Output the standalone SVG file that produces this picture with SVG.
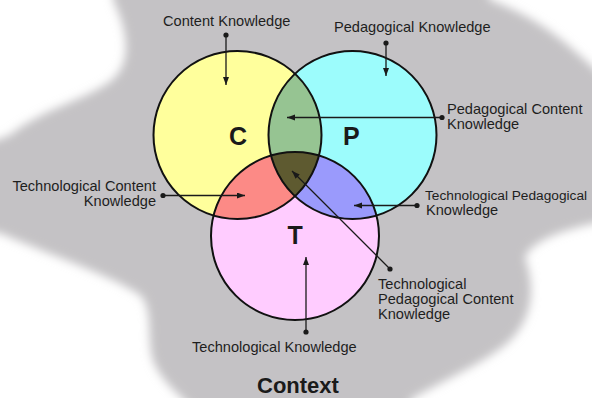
<svg xmlns="http://www.w3.org/2000/svg" width="592" height="398" viewBox="0 0 592 398">
<defs>
<filter id="blur" x="-20%" y="-20%" width="140%" height="140%"><feGaussianBlur stdDeviation="5"/></filter>
<marker id="arr" markerUnits="userSpaceOnUse" markerWidth="9" markerHeight="7" refX="8" refY="3" orient="auto"><path d="M0,0 L8,3 L0,6 Z" fill="#1a1a1a"/></marker>
<style>
.lbl{font-family:"Liberation Sans",Arial,sans-serif;font-size:14.6px;fill:#1e1e1e}
.big{font-family:"Liberation Sans",Arial,sans-serif;font-size:25px;font-weight:bold;fill:#1a1a1a}
.ring{fill:none;stroke:#111;stroke-width:2}
.con{stroke:#1a1a1a;stroke-width:1.3;fill:none;marker-end:url(#arr)}
.dot{fill:#1a1a1a}
</style>
</defs>
<rect width="592" height="398" fill="#ffffff"/>
<path id="context" filter="url(#blur)" fill="#c4c2c5" d="M113 -30 L113 0 C125 25 135 60 112 80 C90 98 40 110 10 135 L-30 150 L-30 230 L0 233 C50 255 110 275 140 295 C155 310 145 345 155 365 C162 380 175 392 195 410 L195 430 L410 430 L410 400 C440 382 480 365 505 345 C535 320 535 285 525 258 C530 240 570 228 600 222 L620 222 L620 90 C590 70 560 25 490 0 L480 -30 Z"/>
<g id="C"><circle cx="237.5" cy="135" r="84" fill="#ffff9c"/></g>
<g id="P"><circle cx="352.5" cy="135" r="84" fill="#9cfcfc"/></g>
<g id="T"><circle cx="295" cy="236" r="84" fill="#ffccff"/></g>
<g id="CP"><path d="M295 73.76 A84 84 0 0 0 295 196.24 A84 84 0 0 0 295 73.76 Z" fill="#96c492"/></g>
<g id="CT"><path d="M213.54 215.51 A84 84 0 0 1 318.96 155.49 A84 84 0 0 1 213.54 215.51 Z" fill="#fc8a86"/></g>
<g id="PT"><path d="M271.04 155.49 A84 84 0 0 1 376.46 215.51 A84 84 0 0 1 271.04 155.49 Z" fill="#9a9afc"/></g>
<g id="CPT"><path d="M271.04 155.49 A84 84 0 0 1 318.96 155.49 A84 84 0 0 1 295 196.24 A84 84 0 0 1 271.04 155.49 Z" fill="#5e5a30"/></g>
<g id="rings">
<circle class="ring" cx="237.5" cy="135" r="84"/>
<circle class="ring" cx="352.5" cy="135" r="84"/>
<circle class="ring" cx="295" cy="236" r="84"/>
</g>
<text class="big" x="229" y="145">C</text>
<text class="big" x="343" y="145">P</text>
<text class="big" x="287.5" y="244">T</text>
<g id="connectors">
<line class="con" x1="226" y1="35" x2="226" y2="85"/><circle class="dot" cx="226" cy="35" r="2.6"/>
<line class="con" x1="386" y1="43" x2="386" y2="76"/><circle class="dot" cx="386" cy="43" r="2.6"/>
<line class="con" x1="442" y1="117.5" x2="287" y2="117.5"/><circle class="dot" cx="442" cy="117.5" r="2.6"/>
<line class="con" x1="163" y1="195.5" x2="245" y2="195.5"/><circle class="dot" cx="163" cy="195.5" r="2.6"/>
<line class="con" x1="417" y1="205.5" x2="354" y2="205.5"/><circle class="dot" cx="417" cy="205.5" r="2.6"/>
<line class="con" x1="390" y1="269" x2="292" y2="171"/><circle class="dot" cx="390" cy="269" r="2.6"/>
<line class="con" x1="306" y1="332" x2="306" y2="257"/><circle class="dot" cx="306" cy="332" r="2.6"/>
</g>
<g id="labels">
<text class="lbl" x="163" y="26">Content Knowledge</text>
<text class="lbl" x="334" y="32">Pedagogical Knowledge</text>
<text class="lbl" x="447" y="114">Pedagogical Content</text>
<text class="lbl" x="447" y="129">Knowledge</text>
<text class="lbl" x="156" y="190.5" text-anchor="end">Technological Content</text>
<text class="lbl" x="156" y="206" text-anchor="end">Knowledge</text>
<text class="lbl" x="425" y="199.5" style="font-size:13.7px">Technological Pedagogical</text>
<text class="lbl" x="426" y="214.5">Knowledge</text>
<text class="lbl" x="378" y="288.5">Technological</text>
<text class="lbl" x="378" y="303.5">Pedagogical Content</text>
<text class="lbl" x="378" y="318.5">Knowledge</text>
<text class="lbl" x="192" y="352">Technological Knowledge</text>
<text x="257" y="392.5" style="font-family:'Liberation Sans',Arial,sans-serif;font-size:22px;font-weight:bold;fill:#1a1a1a">Context</text>
</g>
</svg>
